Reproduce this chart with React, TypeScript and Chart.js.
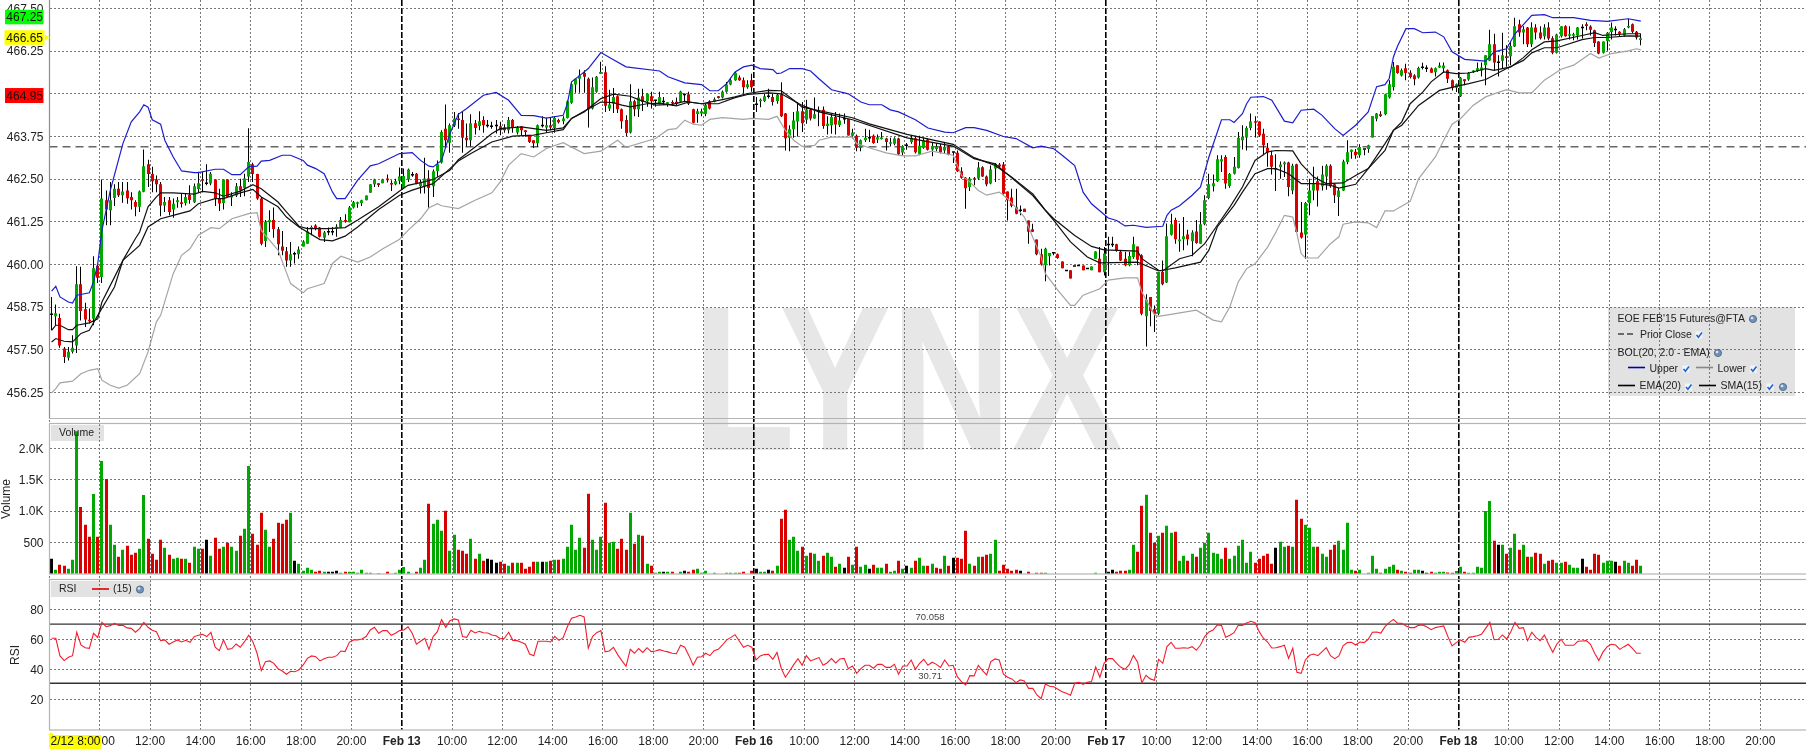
import React, { useEffect, useRef } from "react";
import { Chart, registerables } from "chart.js";

Chart.register(...registerables);

type Ohlc = [number, number, number, number];

const feb12Ohlc: Ohlc[] = [
[458.52,459.05,458.07,458.52],[458.48,458.83,458.22,458.57],[458.43,458.56,457.56,457.63],[457.54,457.58,457.11,457.29],
[457.27,457.58,457.19,457.44],[457.44,457.93,457.39,457.56],[457.63,459.95,457.41,459.42],[459.42,459.93,458.36,458.64],
[458.69,458.88,458.17,458.39],[458.38,458.71,458.27,458.34],[458.41,460.24,458.22,459.89],[459.96,460.03,459.46,459.61],
[459.63,462.49,459.46,461.93],[461.88,462.17,461.15,461.61],[461.59,462.42,461.15,461.88],[461.95,462.35,461.71,462.22],
[462.22,462.42,461.98,462.03],[462.03,462.42,461.81,462.14],[462.17,462.42,461.78,461.94],[461.98,462.12,461.61,461.88],
[461.83,461.88,461.41,461.69],[461.69,462.17,461.54,462.14],[462.13,463.37,462.12,462.88],[462.94,463.07,462.27,462.65],
[462.65,462.86,462.12,462.44],[462.49,462.61,462.12,462.35],[462.35,462.42,461.41,461.73],[461.73,461.98,461.54,461.83],
[461.88,461.98,461.44,461.54],[461.61,461.93,461.37,461.78],[461.82,461.98,461.66,461.88],[461.82,462.08,461.67,461.77],
[461.80,462.08,461.73,461.98],[462.04,462.32,461.78,461.89],[461.82,462.37,461.80,462.29],[462.21,462.72,462.12,462.38],
[462.50,462.71,462.12,462.45],[462.36,462.94,462.32,462.36],[462.37,462.71,462.32,462.66],[462.49,462.49,461.71,461.93],
[461.93,462.22,461.57,461.79],[461.80,462.49,461.61,462.49],[462.49,462.49,461.98,461.98],[461.96,462.12,461.71,462.02],
[462.02,462.39,461.98,462.29],[462.29,462.51,461.98,462.17],[462.24,462.66,462.00,462.52],[462.58,463.99,462.42,463.00],
[462.94,462.98,462.42,462.65],[462.65,462.66,461.90,461.93],[461.93,461.98,460.56,460.61],[460.69,461.30,460.51,461.25],
[461.24,461.59,460.95,461.30],[461.30,461.67,460.78,461.04],[461.03,461.10,460.27,460.59],[460.53,460.98,460.27,460.40],
[460.39,460.51,459.93,460.12],[460.12,460.66,459.93,460.30],[460.29,460.37,460.03,460.29],[460.30,460.53,460.17,460.44],
[460.53,460.71,460.53,460.67],[460.61,461.10,460.61,460.97],[461.04,461.14,460.86,461.10],[461.14,461.18,461.00,461.04],
[461.08,461.10,460.79,460.81],[460.78,460.98,460.66,460.94],[460.94,461.08,460.86,460.94],[460.94,461.10,460.86,460.94],
[461.06,461.18,460.81,461.08],[461.08,461.39,461.08,461.30],[461.30,461.47,461.22,461.25],[461.24,461.71,461.24,461.67],
[461.67,461.86,461.64,461.82],[461.78,461.84,461.66,461.82],[461.80,461.90,461.71,461.88],[461.88,462.02,461.88,462.02],
[462.10,462.35,462.10,462.35],[462.35,462.51,462.27,462.49],[462.38,462.38,462.27,462.33],[462.38,462.51,462.38,462.49],
[462.52,462.64,462.40,462.47],[462.38,462.47,462.15,462.34],[462.35,462.51,462.32,462.44],[462.45,462.84,462.35,462.58],
];
const feb13Ohlc: Ohlc[] = [
[462.24,462.81,462.22,462.59],[462.49,462.81,462.42,462.78],[462.61,462.71,462.57,462.61],[462.66,462.68,462.35,462.37],
[462.30,462.49,462.08,462.42],[462.30,463.13,462.08,462.52],[462.52,462.76,461.66,462.24],[462.29,462.78,461.98,462.73],
[462.74,463.05,462.57,462.94],[462.99,463.93,462.96,463.88],[463.98,464.69,463.45,463.64],[463.57,464.13,463.27,464.08],
[464.07,464.47,464.03,464.28],[464.28,464.44,463.98,464.23],[464.23,464.47,463.27,463.71],[463.71,464.13,463.46,463.64],
[463.64,464.40,463.46,464.14],[464.14,464.23,463.81,464.00],[464.06,464.49,463.93,464.20],[464.23,464.34,463.86,464.08],
[464.05,464.23,464.01,464.05],[464.03,464.18,463.98,464.03],[464.05,464.23,463.84,464.05],[464.05,464.18,463.79,463.93],
[464.01,464.11,463.86,463.93],[463.93,464.32,463.84,464.23],[464.23,464.26,463.86,464.01],[463.87,464.06,463.81,464.01],
[464.04,464.05,463.79,463.93],[463.93,463.93,463.74,463.88],[463.77,463.79,463.56,463.59],[463.64,463.64,463.41,463.55],
[463.55,464.10,463.45,464.08],[464.05,464.34,464.01,464.05],[464.01,464.30,463.86,464.08],[464.08,464.30,463.93,464.01],
[464.00,464.34,463.86,464.29],[464.23,464.27,464.13,464.17],[464.20,464.34,464.11,464.28],[464.29,464.81,464.28,464.78],
[464.74,465.32,464.71,465.28],[465.27,465.45,465.03,465.44],[465.44,465.71,465.03,465.54],[465.61,465.69,465.03,465.50],
[465.44,465.48,464.01,464.55],[464.57,465.48,464.54,465.19],[465.06,465.52,465.03,465.50],[465.59,465.94,465.59,465.64],
[465.63,465.81,464.47,464.65],[464.57,465.12,464.50,464.69],[464.71,465.17,464.44,464.91],[464.93,464.96,464.44,464.55],
[464.55,464.57,463.98,464.20],[464.23,464.37,463.76,463.85],[463.87,465.28,463.84,464.78],[464.78,464.83,464.34,464.55],
[464.55,465.15,464.32,464.89],[464.93,465.15,464.50,464.76],[464.78,465.01,464.62,465.00],[464.93,465.06,464.57,464.78],
[464.79,464.81,464.62,464.79],[464.72,465.06,464.69,464.91],[464.75,464.91,464.67,464.75],[464.69,464.76,464.62,464.75],
[464.75,464.81,464.64,464.72],[464.77,464.89,464.65,464.71],[464.77,465.09,464.75,465.07],[464.96,465.01,464.75,464.96],
[464.99,465.06,464.67,464.71],[464.55,464.56,464.13,464.15],[464.41,464.56,464.15,464.49],[464.42,464.57,464.34,464.49],
[464.41,464.71,464.34,464.67],[464.78,464.81,464.54,464.57],[464.78,464.89,464.75,464.84],[464.93,464.94,464.86,464.88],
[464.89,465.10,464.86,465.06],[465.06,465.35,465.03,465.27],[465.27,465.48,465.25,465.40],[465.40,465.64,465.38,465.62],
[465.48,465.54,465.38,465.40],[465.40,465.48,465.01,465.19],[465.19,465.40,465.15,465.28],[465.40,465.59,465.06,465.19],
];
const feb16Ohlc: Ohlc[] = [
[464.67,464.91,464.47,464.67],[464.78,464.86,464.61,464.83],[464.79,465.00,464.76,464.93],[464.91,465.15,464.86,464.91],
[464.91,465.00,464.66,464.76],[464.79,465.00,464.71,464.97],[464.99,465.34,464.32,464.34],[464.42,464.44,463.34,463.70],
[463.71,464.08,463.32,463.96],[463.96,464.47,463.71,464.22],[464.19,464.76,463.75,464.49],[464.49,464.76,463.88,464.14],
[464.24,464.83,464.12,464.54],[464.53,464.56,464.22,464.28],[464.28,464.89,464.27,464.40],[464.47,464.63,464.05,464.47],
[464.53,464.63,463.98,464.06],[464.06,464.34,463.81,464.12],[464.08,464.42,463.83,464.32],[464.32,464.47,463.81,464.10],
[464.09,464.42,464.03,464.22],[464.25,464.42,464.12,464.25],[464.26,464.26,463.78,463.78],[463.77,463.98,463.69,463.87],
[463.77,463.81,463.32,463.42],[463.42,463.66,463.32,463.64],[463.64,463.98,463.59,463.71],[463.69,463.95,463.59,463.69],
[463.77,463.81,463.54,463.56],[463.66,463.81,463.56,463.73],[463.68,463.88,463.66,463.72],[463.69,463.71,463.34,463.59],
[463.54,463.71,463.46,463.58],[463.54,463.73,463.49,463.69],[463.69,463.71,463.20,463.23],[463.28,463.49,463.20,463.47],
[463.47,463.56,463.36,463.47],[463.59,463.78,463.54,463.71],[463.70,463.77,463.25,463.29],[463.23,463.77,463.20,463.48],
[463.42,463.71,463.39,463.64],[463.66,463.69,463.34,463.36],[463.37,463.59,463.17,463.47],[463.38,463.56,463.32,463.46],
[463.46,463.54,463.25,463.28],[463.34,463.59,463.25,463.45],[463.46,463.49,463.20,463.22],[463.27,463.29,462.97,463.27],
[463.27,463.34,462.71,462.73],[462.73,462.85,462.51,462.54],[462.54,462.56,461.63,462.23],[462.27,462.56,462.15,462.52],
[462.52,462.56,462.32,462.48],[462.52,463.00,462.48,462.84],[462.85,462.88,462.56,462.58],[462.58,462.61,462.29,462.35],
[462.37,462.90,462.35,462.78],[462.81,462.97,462.42,462.95],[462.93,462.97,462.85,462.87],[462.93,463.00,462.05,462.07],
[462.14,462.14,461.29,461.88],[461.96,462.22,461.68,461.72],[461.68,462.22,461.47,461.49],[461.57,461.73,461.44,461.57],
[461.63,461.63,461.54,461.54],[461.29,461.29,460.61,460.96],[461.03,461.19,460.95,460.96],[460.73,460.73,460.27,460.30],
[460.30,460.46,459.97,460.00],[459.98,460.49,459.51,460.46],[460.24,460.34,459.97,460.34],[460.32,460.36,460.27,460.32],
[460.30,460.32,460.17,460.19],[460.09,460.09,459.89,459.89],[459.80,459.80,459.80,459.80],[459.83,459.83,459.59,459.59],
[459.93,459.93,459.93,459.93],[459.95,459.95,459.95,459.95],[459.97,459.97,459.83,459.83],[459.86,459.86,459.86,459.86],
[459.83,459.94,459.83,459.94],[460.17,460.39,460.17,460.38],[460.17,460.51,459.77,459.77],[459.77,460.51,459.68,460.32],
];
const feb17Ohlc: Ohlc[] = [
[460.56,460.81,459.66,460.56],[460.56,460.81,460.51,460.56],[460.59,460.61,460.37,460.40],[460.37,460.40,460.10,460.12],
[460.17,460.37,459.95,459.98],[459.98,460.37,459.95,460.25],[460.22,460.81,460.17,460.59],[460.53,460.53,459.98,460.14],
[460.27,460.30,458.51,458.56],[458.48,459.13,457.60,458.97],[459.05,459.05,458.19,458.64],[458.69,458.80,458.02,458.56],
[458.56,459.78,458.51,459.78],[459.78,460.12,459.39,459.42],[459.47,461.20,459.46,460.83],[460.87,461.49,460.85,461.18],
[461.30,461.37,460.61,460.74],[460.68,461.20,460.37,460.73],[460.74,461.39,460.42,460.83],[460.88,461.02,460.56,460.74],
[460.68,461.00,460.24,460.94],[460.97,461.30,460.61,460.63],[460.61,461.54,460.61,461.18],[461.18,462.03,461.15,461.88],
[461.95,462.66,461.91,462.35],[462.29,462.64,462.14,462.38],[462.44,463.20,462.42,463.08],[463.02,463.20,462.71,463.08],
[463.15,463.20,462.22,462.37],[462.30,462.68,462.25,462.65],[462.66,463.15,462.64,462.86],[462.83,463.88,462.81,463.71],
[463.64,464.08,463.37,463.74],[463.72,464.05,463.34,464.00],[464.00,464.42,463.93,464.19],[464.19,464.34,463.72,464.15],
[464.19,464.20,463.74,463.78],[463.83,463.98,463.20,463.49],[463.42,463.56,462.86,463.28],[463.20,463.33,462.64,462.86],
[462.78,463.23,462.15,462.78],[462.85,463.02,462.51,462.93],[462.94,463.02,462.56,462.99],[462.99,463.01,462.00,462.27],
[462.17,462.95,462.06,462.89],[462.94,462.95,460.92,460.95],[460.94,461.83,460.76,460.79],[460.88,461.83,460.17,461.80],
[461.80,462.51,461.44,462.17],[462.17,462.86,461.88,462.35],[462.44,462.58,461.70,462.17],[462.29,462.89,462.17,462.64],
[462.58,462.94,462.19,462.89],[462.89,462.94,462.25,462.29],[462.35,462.37,461.80,462.03],[461.98,462.25,461.42,462.17],
[462.17,463.07,462.15,463.02],[463.00,463.64,462.94,463.29],[463.30,463.37,463.10,463.36],[463.30,463.38,463.10,463.20],
[463.20,463.52,463.13,463.44],[463.36,463.37,463.20,463.36],[463.38,463.51,463.27,463.49],[463.72,464.35,463.72,464.35],
[464.27,464.44,464.20,464.42],[464.40,464.49,464.32,464.35],[464.40,465.00,464.37,464.99],[464.89,465.40,464.86,465.28],
[465.20,465.93,465.10,465.79],[465.84,465.84,465.59,465.61],[465.54,465.74,465.51,465.69],[465.75,465.88,465.40,465.61],
[465.62,465.69,465.45,465.49],[465.54,465.57,465.25,465.43],[465.48,465.79,465.45,465.76],[465.76,465.91,465.71,465.76],
[465.73,465.84,465.64,465.73],[465.74,465.77,465.62,465.62],[465.63,465.77,465.51,465.75],[465.77,465.92,465.76,465.83],
[465.75,465.92,465.61,465.83],[465.69,465.71,465.32,465.44],[465.40,465.42,465.10,465.18],[465.18,465.30,465.05,465.28],
];
const feb18Ohlc: Ohlc[] = [
[464.93,465.49,464.91,465.47],[465.43,465.43,465.25,465.37],[465.42,465.64,465.38,465.62],[465.63,465.69,465.61,465.68],
[465.67,465.92,465.64,465.75],[465.68,465.92,465.51,465.77],[465.84,466.13,465.25,466.13],[465.98,466.88,465.96,466.45],
[466.45,466.76,465.69,465.92],[465.90,466.13,465.51,465.90],[465.97,466.79,465.74,466.13],[466.10,466.42,465.79,466.05],
[466.10,466.52,465.84,466.40],[466.39,467.23,466.37,466.98],[467.04,467.17,466.67,466.80],[466.80,466.98,466.45,466.89],
[466.94,466.96,466.37,466.45],[466.45,467.10,466.37,466.94],[466.94,467.04,466.59,466.80],[466.80,466.98,466.59,466.63],
[466.69,467.04,466.59,466.94],[466.94,467.10,466.57,466.62],[466.63,466.69,466.16,466.20],[466.20,466.76,466.18,466.74],
[466.69,466.98,466.65,466.98],[466.98,467.01,466.67,466.69],[466.70,466.98,466.59,466.73],[466.70,466.79,466.57,466.73],
[466.71,466.96,466.59,466.94],[466.92,467.04,466.62,466.92],[467.04,467.10,466.86,466.99],[466.97,467.01,466.71,466.88],
[466.86,466.88,466.37,466.49],[466.53,466.54,466.16,466.18],[466.20,466.53,466.18,466.53],[466.55,466.81,466.26,466.79],
[466.81,467.09,466.59,466.94],[466.86,466.98,466.71,466.86],[466.82,466.83,466.67,466.76],[466.70,466.93,466.67,466.89],
[466.94,467.20,466.92,466.99],[467.04,467.06,466.78,466.82],[466.82,466.84,466.59,466.65],[466.58,466.76,466.42,466.63],
];

const feb12Volume = [239,64,143,127,80,223,2274,1066,779,588,1272,588,1797,1511,779,461,270,382,445,302,334,398,1256,557,318,223,541,413,302,239,254,239,239,175,429,398,398,541,286,573,398,429,493,429,366,605,716,1719,637,461,971,700,429,557,812,796,859,971,207,159,48,95,64,32,48,32,32,32,48,16,32,32,32,16,64,16,16,0,8,0,32,0,16,64];
const feb13Volume = [106,32,0,32,96,223,1115,797,860,685,1004,366,621,382,366,319,558,239,319,207,239,223,175,191,159,127,175,175,175,80,112,191,191,191,191,207,223,223,239,430,781,382,573,414,1274,542,382,589,1131,494,510,398,558,382,972,478,621,605,159,127,16,32,32,32,32,0,32,48,32,64,80,16,48,0,16,0,0,16,16,16,16,32,0,48];
const feb16Volume = [80,32,32,64,48,127,876,1020,542,589,366,430,287,335,319,207,287,335,271,112,159,96,271,143,430,112,143,80,143,96,96,159,32,48,207,80,127,96,207,255,127,127,159,96,80,287,127,255,255,239,685,159,127,271,271,303,319,542,48,143,80,48,64,48,0,32,0,16,16,16,0,0,0,0,0,0,0,0,0,0,0,16,0,0];
const feb17Volume = [32,64,32,48,48,64,462,350,1083,1258,653,494,605,653,765,653,669,207,287,207,319,271,414,494,653,335,319,239,414,239,287,446,542,175,350,175,239,287,319,159,414,510,430,446,430,1179,876,781,733,430,430,319,271,382,462,526,382,812,64,48,64,0,16,287,80,16,80,112,143,64,48,32,16,64,64,48,16,32,16,32,32,21,16,42];
const feb18Volume = [111,32,16,16,111,95,1002,1161,525,461,461,318,413,636,382,461,270,270,334,318,159,207,223,175,175,191,143,95,95,239,111,64,318,302,175,207,207,191,127,207,175,127,223,127];

const volumeDirections = [
  "kgrrgggrrrgrgrggrgrrrggrrrrgrggrgrggrkgrrgrggrggrrrggrrrrgkggggrrgkkkgrgggggggrgrggg",
  "gggrggrgggrggrrrgrgrkkkrrgrgrrrrgkgrgrgggggrrgggrggrrrgrgrgrggkgrggkrrggggggggggrrgr",
  "kggkrgrrgggrgrggrggrgkrgrggkrggrggrgkgrggrgrrgrkrrrgrgrrggrrrrrkrrrrrggggggggggggggg",
  "kkrrrggrrgrrgrggrggrgrggggggrggggggrrrrrkggrgrrgggrggrrggggrgggggrgggrgrrggkkrgggrrg",
  "grggggggrkgrggrgrgrrgrrggrgggkrrrrgggkrggrrg",
].join("");

const feb12Rsi = [60.7,60.7,48.9,45.8,48.0,49.1,64.7,56.2,54.4,54.0,64.0,61.3,71.3,68.4,69.1,70.7,69.3,69.3,67.6,67.3,64.7,67.1,71.3,68.0,66.0,65.1,59.1,59.6,56.7,58.2,59.6,58.2,59.3,58.0,61.8,62.7,63.3,61.8,64.7,54.7,52.4,59.6,53.3,53.8,56.9,54.7,58.4,62.7,58.4,50.7,39.1,45.1,45.6,44.0,40.4,38.9,36.7,38.7,38.4,39.6,42.9,47.3,48.9,48.4,45.6,47.1,48.0,48.0,49.1,52.2,51.8,58.0,59.6,59.6,60.2,61.8,66.2,68.0,64.0,65.8,65.8,62.7,64.0,65.8];
const feb13Rsi = [66.2,68.4,64.0,56.7,58.7,60.7,53.3,61.8,65.1,73.1,68.0,72.4,73.6,72.9,61.8,61.3,66.0,64.2,65.3,64.4,64.2,62.9,62.4,60.4,60.7,64.7,59.3,59.1,58.0,56.7,50.2,49.1,58.7,58.7,58.7,58.2,62.0,59.3,61.1,68.4,74.0,74.9,76.0,74.9,54.0,61.8,64.4,65.8,51.6,52.2,54.7,49.8,45.8,42.0,53.3,50.7,53.8,51.3,54.4,51.8,52.2,53.1,52.2,51.6,50.7,50.4,56.0,54.7,49.1,42.7,48.0,48.4,50.7,49.1,52.4,53.3,56.2,59.6,61.3,63.1,58.9,54.7,56.0,54.7];
const feb16Rsi = [46.2,48.9,49.8,50.0,46.7,51.3,40.7,34.7,38.9,43.1,47.1,42.7,49.1,45.6,46.7,47.8,42.7,44.4,47.1,44.2,46.9,47.3,40.4,42.2,37.3,40.4,42.7,42.7,40.7,43.3,43.3,41.3,41.3,43.3,36.7,42.2,42.2,46.2,40.0,44.0,46.7,42.7,44.7,43.3,41.3,46.2,42.2,42.7,35.1,31.8,29.6,35.8,35.6,42.7,39.1,36.2,45.1,46.9,46.2,36.7,34.7,33.6,31.1,32.9,32.2,27.3,27.3,22.9,20.4,30.2,28.7,28.4,26.7,25.1,24.0,22.7,30.7,31.3,30.0,31.3,31.8,41.6,34.7,44.0];
const feb17Rsi = [47.1,47.1,44.0,41.3,40.0,43.1,49.3,44.7,30.9,36.0,33.6,32.7,46.7,44.0,55.1,58.0,54.0,54.0,54.4,54.0,55.1,52.7,56.2,61.8,64.9,66.2,69.6,69.3,61.3,62.7,64.4,69.3,69.3,70.9,72.0,71.1,65.1,60.7,58.2,54.2,54.4,55.1,56.0,47.3,54.0,38.0,37.3,46.2,49.3,50.2,49.1,51.8,54.4,49.1,47.1,48.9,55.6,57.8,58.0,56.2,58.2,57.8,60.0,64.7,64.9,64.2,68.4,71.1,73.3,70.7,70.7,68.9,67.8,67.8,69.3,69.6,68.2,66.4,67.8,68.4,68.9,61.8,55.6,57.8];
const feb18Rsi = [59.6,58.0,61.3,61.8,62.4,63.3,67.3,71.3,59.8,60.0,62.9,60.2,65.1,71.3,67.3,67.8,59.1,64.7,61.3,59.1,62.9,56.9,51.3,56.9,60.0,56.0,56.0,56.0,58.7,58.9,59.1,56.7,50.7,45.8,51.6,55.1,56.7,56.2,53.3,55.1,56.7,54.0,50.7,50.7];

type BarValue = [number, number];
const upperBand: BarValue[] = [[0,459.22],[1,459.36],[2,459.05],[4,458.90],[5,458.87],[6,459.10],[9,459.17],[10,459.49],[11,460.02],[12,461.0],[14,462.17],[17,463.54],[19,464.18],[21,464.47],[22,464.68],[23,464.61],[24,464.24],[26,464.11],[27,463.64],[29,463.15],[31,462.74],[34,462.69],[35,462.69],[39,462.79],[41,462.79],[43,462.63],[45,462.63],[47,462.86],[49,462.88],[50,463.03],[52,463.05],[55,463.20],[57,463.20],[60,463.05],[61,462.91],[63,462.81],[65,462.66],[67,462.12],[68,461.93],[70,461.93],[73,462.47],[76,462.89],[78,462.95],[83,463.25],[86,463.28],[88,463.05],[90,462.88],[91,462.86],[93,463.05],[95,463.84],[97,464.40],[99,464.57],[103,464.96],[106,465.04],[109,464.81],[112,464.37],[115,464.36],[118,464.29],[122,464.37],[123,464.71],[124,465.35],[126,465.54],[128,465.74],[131,466.21],[134,466.00],[137,465.79],[145,465.67],[147,465.50],[151,465.32],[155,465.27],[157,465.09],[159,465.09],[161,465.30],[163,465.64],[165,465.79],[167,465.84],[169,465.74],[172,465.71],[173,465.59],[174,465.61],[176,465.74],[179,465.74],[181,465.67],[183,465.44],[186,465.12],[190,465.00],[193,464.76],[195,464.68],[198,464.68],[200,464.53],[202,464.47],[206,464.24],[209,464.00],[213,463.88],[215,463.86],[218,464.01],[220,464.01],[223,463.93],[227,463.75],[230,463.69],[234,463.42],[236,463.47],[239,463.39],[241,463.20],[244,462.90],[246,462.12],[248,461.78],[252,461.36],[254,461.29],[256,461.13],[258,461.15],[261,461.09],[265,461.12],[266,461.44],[267,461.59],[269,461.72],[272,462.03],[274,462.27],[276,463.15],[279,464.24],[281,464.24],[282,464.16],[284,464.42],[285,464.71],[286,464.90],[289,464.92],[291,464.81],[294,464.20],[296,464.15],[298,464.52],[301,464.55],[303,464.37],[306,463.98],[308,463.78],[311,464.08],[314,464.47],[316,465.21],[318,465.27],[319,465.45],[320,466.08],[321,466.40],[323,466.91],[325,466.91],[327,466.79],[330,466.81],[332,466.67],[334,466.23],[337,466.01],[342,465.96],[344,466.23],[347,466.32],[349,466.76],[353,467.30],[356,467.32],[358,467.23],[363,467.23],[367,467.15],[371,467.12],[376,467.20],[379,467.13]];
const lowerBand: BarValue[] = [[0,456.24],[1,456.36],[2,456.53],[5,456.58],[7,456.80],[9,456.90],[11,456.95],[12,456.61],[14,456.46],[16,456.38],[18,456.46],[21,456.80],[23,457.44],[25,458.32],[26,458.51],[29,459.73],[31,460.27],[33,460.46],[35,460.86],[38,461.08],[40,461.05],[43,461.34],[47,461.49],[49,461.52],[50,461.0],[54,460.42],[57,459.44],[60,459.17],[61,459.29],[65,459.44],[67,460.03],[69,460.24],[73,460.07],[76,460.22],[79,460.46],[83,460.74],[85,461.0],[88,461.34],[90,461.66],[92,461.78],[93,461.72],[97,461.64],[101,461.88],[105,462.10],[107,462.42],[109,462.91],[112,463.25],[115,463.15],[118,463.40],[122,463.57],[127,463.25],[131,463.32],[135,463.64],[137,463.43],[144,463.69],[147,463.95],[149,463.98],[151,464.23],[153,464.11],[155,464.08],[157,464.25],[160,464.30],[165,464.25],[167,464.28],[171,464.25],[173,464.34],[175,463.93],[177,463.64],[179,463.46],[182,463.49],[183,463.64],[186,463.73],[191,463.73],[192,463.54],[195,463.42],[199,463.27],[203,463.18],[206,463.18],[210,463.32],[215,463.20],[217,462.61],[219,462.42],[221,462.17],[223,462.03],[226,462.12],[228,461.93],[232,461.39],[234,460.80],[236,460.22],[237,459.73],[240,459.24],[243,458.80],[244,458.80],[246,459.10],[250,459.29],[252,459.54],[256,459.61],[259,459.61],[260,459.19],[263,458.53],[264,458.48],[268,458.56],[273,458.66],[277,458.37],[279,458.32],[281,458.76],[283,459.49],[285,459.88],[287,460.02],[290,460.51],[292,460.95],[294,461.44],[296,461.39],[297,460.90],[298,460.32],[299,460.19],[302,460.19],[305,460.61],[307,460.81],[308,461.18],[311,461.25],[314,461.22],[316,461.08],[318,461.57],[320,461.57],[324,461.85],[326,462.51],[330,463.15],[332,463.64],[334,464.11],[336,464.27],[339,464.66],[342,464.91],[344,465.00],[347,465.12],[350,465.03],[353,465.03],[356,465.40],[360,465.72],[363,465.84],[367,466.18],[369,466.05],[372,466.18],[376,466.26],[378,466.32],[379,466.29]];
const sma15: BarValue[] = [[0,458.07],[1,458.22],[2,458.22],[4,458.09],[5,458.09],[6,458.22],[9,458.29],[11,458.41],[12,458.90],[15,459.63],[17,460.12],[20,460.76],[21,460.95],[23,461.69],[25,461.98],[26,462.10],[29,462.10],[34,462.06],[36,462.14],[39,462.10],[41,462.00],[45,462.15],[48,462.34],[50,462.22],[54,461.83],[56,461.54],[59,461.12],[61,461.05],[66,461.05],[70,461.08],[73,461.30],[78,461.69],[83,462.15],[85,462.32],[88,462.40],[91,462.49],[95,462.76],[97,463.07],[99,463.25],[102,463.54],[105,463.84],[107,463.98],[112,464.03],[115,463.98],[118,463.93],[122,464.00],[124,464.28],[127,464.47],[128,464.57],[131,464.86],[134,464.99],[138,464.93],[140,464.83],[144,464.67],[148,464.69],[151,464.78],[155,464.71],[160,464.83],[163,464.91],[166,465.01],[171,465.10],[174,465.09],[177,464.81],[179,464.61],[183,464.51],[191,464.30],[195,464.12],[204,463.81],[215,463.52],[220,463.13],[225,462.90],[229,462.56],[234,462.07],[237,461.59],[239,461.34],[244,460.85],[248,460.53],[251,460.43],[259,460.39],[260,460.17],[264,459.83],[265,459.81],[269,460.17],[272,460.27],[275,460.61],[278,461.15],[281,461.68],[284,462.27],[287,463.05],[290,463.30],[292,463.34],[296,463.33],[298,462.95],[301,462.56],[304,462.37],[308,462.39],[311,462.61],[314,462.81],[318,463.34],[320,463.93],[322,464.18],[324,464.71],[327,465.05],[329,465.35],[332,465.64],[335,465.59],[338,465.61],[342,465.74],[344,465.69],[348,465.79],[351,466.06],[353,466.29],[356,466.52],[359,466.55],[365,466.71],[368,466.79],[370,466.71],[376,466.76],[379,466.76]];
const ema20: BarValue[] = [[0,457.73],[1,457.83],[3,457.75],[5,457.73],[7,457.98],[9,458.07],[11,458.51],[15,459.34],[17,460.12],[21,460.56],[23,461.10],[26,461.34],[29,461.44],[33,461.57],[35,461.78],[39,461.93],[41,461.93],[45,462.10],[48,462.20],[50,461.98],[54,461.69],[56,461.39],[59,461.10],[64,460.73],[67,460.69],[70,460.83],[73,461.10],[78,461.61],[83,462.03],[86,462.18],[91,462.37],[95,462.81],[97,463.03],[100,463.25],[105,463.59],[110,463.76],[115,463.79],[118,463.86],[122,463.95],[124,464.28],[127,464.49],[131,464.76],[134,464.74],[136,464.67],[138,464.62],[142,464.71],[145,464.73],[149,464.65],[152,464.76],[155,464.71],[159,464.71],[163,464.89],[166,464.98],[171,465.03],[174,465.00],[179,464.66],[183,464.47],[191,464.24],[204,463.71],[215,463.47],[220,463.10],[225,462.95],[234,462.02],[239,461.29],[243,460.66],[247,460.22],[250,460.05],[259,460.07],[264,459.81],[268,459.90],[274,460.07],[276,460.42],[278,461.10],[282,461.73],[284,462.12],[287,462.66],[290,462.81],[292,462.81],[295,462.66],[298,462.37],[302,462.37],[305,462.32],[307,462.24],[311,462.35],[314,462.81],[318,463.54],[320,463.93],[322,464.08],[324,464.37],[326,464.66],[331,465.10],[335,465.22],[338,465.30],[342,465.42],[347,465.74],[351,465.98],[353,466.20],[356,466.35],[359,466.35],[365,466.59],[368,466.65],[371,466.65],[376,466.70],[379,466.69]];

const priorClose = 463.45;
const rsiUpperLevel = 70.058;
const rsiLowerLevel = 30.71;
const lastHigh = 467.25;
const lastPrice = 466.65;
const lastLow = 464.95;

const priceTicks = [467.5, 466.25, 465, 463.75, 462.5, 461.25, 460, 458.75, 457.5, 456.25];
const volumeTicks = [500, 1000, 1500, 2000];
const volumeTickLabels = ["500", "1.0K", "1.5K", "2.0K"];
const rsiTicks = [20, 40, 60, 80];
const xTickBars = [-0.5,11.5,23.5,35.5,47.5,59.5,71.5,83.5,95.5,107.5,119.5,131.5,143.5,155.5,167.5,179.5,191.5,203.5,215.5,227.5,239.5,251.5,263.5,275.5,287.5,299.5,311.5,323.5,335.5,347.5,359.5,371.5,383.5,395.5,407.5];
const xTickLabels = ["","10:00","12:00","14:00","16:00","18:00","20:00","Feb 13","10:00","12:00","14:00","16:00","18:00","20:00","Feb 16","10:00","12:00","14:00","16:00","18:00","20:00","Feb 17","10:00","12:00","14:00","16:00","18:00","20:00","Feb 18","10:00","12:00","14:00","16:00","18:00","20:00"];

const FONT = '"Liberation Sans", Arial, sans-serif';
const GREEN = "#00a800";
const RED = "#d90000";
const GRID = "#777777";

const ohlc = [...feb12Ohlc, ...feb13Ohlc, ...feb16Ohlc, ...feb17Ohlc, ...feb18Ohlc];
const volume = [...feb12Volume, ...feb13Volume, ...feb16Volume, ...feb17Volume, ...feb18Volume];
const rsi = [...feb12Rsi, ...feb13Rsi, ...feb16Rsi, ...feb17Rsi, ...feb18Rsi];

const X_MIN = -0.5;
const X_MAX = 418.4;

const candleColor = (c: Ohlc) => (c[3] > c[0] ? GREEN : c[3] < c[0] ? RED : "#000000");
const volumeColor = (d: string) => (d === "g" ? GREEN : d === "r" ? RED : "#000000");
const toPoints = (rows: BarValue[]) => rows.map(([x, y]) => ({ x, y }));

function globe(ctx: CanvasRenderingContext2D, x: number, y: number) {
  ctx.beginPath();
  ctx.arc(x, y, 3.6, 0, Math.PI * 2);
  ctx.fillStyle = "#6f93bd";
  ctx.fill();
  ctx.strokeStyle = "#4a5f78";
  ctx.lineWidth = 0.8;
  ctx.stroke();
  ctx.beginPath();
  ctx.arc(x - 1, y - 1, 1.3, 0, Math.PI * 2);
  ctx.fillStyle = "#dbe6f2";
  ctx.fill();
}

function check(ctx: CanvasRenderingContext2D, x: number, y: number) {
  ctx.fillStyle = "#f4f4f4";
  ctx.fillRect(x - 3.5, y - 3.5, 7, 7);
  ctx.beginPath();
  ctx.moveTo(x - 2.5, y);
  ctx.lineTo(x - 0.6, y + 2.2);
  ctx.lineTo(x + 3, y - 2.6);
  ctx.strokeStyle = "#1a66d6";
  ctx.lineWidth = 1.6;
  ctx.stroke();
}

function seg(ctx: CanvasRenderingContext2D, x1: number, x2: number, y: number, color: string, dash: number[] = []) {
  ctx.save();
  ctx.setLineDash(dash);
  ctx.strokeStyle = color;
  ctx.lineWidth = 1.6;
  ctx.beginPath();
  ctx.moveTo(x1, y);
  ctx.lineTo(x2, y);
  ctx.stroke();
  ctx.restore();
}

function text(ctx: CanvasRenderingContext2D, s: string, x: number, y: number, font = `10.5px ${FONT}`, color = "#222222", align: CanvasTextAlign = "left") {
  ctx.font = font;
  ctx.fillStyle = color;
  ctx.textAlign = align;
  ctx.textBaseline = "middle";
  ctx.fillText(s, x, y);
}

const snapBars = {
  id: "snapBars",
  afterDatasetsUpdate(chart: Chart) {
    chart.getSortedVisibleDatasetMetas().forEach((meta: any) => {
      if (meta.type !== "bar") return;
      meta.data.forEach((bar: any) => {
        bar.x = Math.round(bar.x - 0.5) + 0.5;
      });
    });
  },
};

const chrome = {
  id: "chrome",
  beforeDraw(chart: Chart) {
    const ctx = chart.ctx;
    ctx.save();
    ctx.fillStyle = "#ffffff";
    ctx.fillRect(0, 0, chart.width, chart.height);
    ctx.save();
    ctx.translate(693, 450);
    ctx.scale(0.81, 1);
    ctx.font = `bold 206px ${FONT}`;
    ctx.fillStyle = "#e7e7e7";
    ctx.textAlign = "left";
    ctx.textBaseline = "alphabetic";
    ctx.fillText("LYNX", 0, 0);
    ctx.restore();
    ctx.fillStyle = "#e2e2e2";
    ctx.fillRect(1608, 307, 187, 89);
    ctx.fillRect(51, 425, 53, 16);
    ctx.fillRect(51, 581, 100, 16);
    ctx.restore();
  },
  afterDraw(chart: Chart) {
    const ctx = chart.ctx;
    const { yPrice, yRsi, x } = chart.scales;
    ctx.save();
    // panel frames
    ctx.strokeStyle = "#b4b4b4";
    ctx.lineWidth = 1.2;
    ctx.strokeRect(49.5, 423.5, 1760, 150.5);
    ctx.strokeRect(49.5, 579.5, 1760, 150.5);
    ctx.beginPath();
    ctx.moveTo(49.5, 418.5);
    ctx.lineTo(1806, 418.5);
    ctx.stroke();
    ctx.strokeStyle = "#8c8c8c";
    ctx.beginPath();
    ctx.moveTo(49.5, 0);
    ctx.lineTo(49.5, 418.5);
    ctx.stroke();

    // axis titles
    ctx.save();
    ctx.translate(7, 499);
    ctx.rotate(-Math.PI / 2);
    text(ctx, "Volume", 0, 0, `12px ${FONT}`, "#222222", "center");
    ctx.restore();
    ctx.save();
    ctx.translate(16, 655);
    ctx.rotate(-Math.PI / 2);
    text(ctx, "RSI", 0, 0, `12px ${FONT}`, "#222222", "center");
    ctx.restore();

    // price flags
    const flag = (value: number, fill: string, left: number, right: number, h: number) => {
      const y = yPrice.getPixelForValue(value);
      ctx.fillStyle = fill;
      ctx.fillRect(left, y - h / 2, right - left, h);
      text(ctx, value.toFixed(2), 43, y + 1, `12px ${FONT}`, "#111111", "right");
      return y;
    };
    flag(lastHigh, "#00ff00", 5, 43.5, 14.5);
    const yLast = yPrice.getPixelForValue(lastPrice);
    ctx.fillStyle = "#ffff00";
    ctx.beginPath();
    ctx.moveTo(45, yLast - 3);
    ctx.lineTo(50, yLast);
    ctx.lineTo(45, yLast + 3);
    ctx.fill();
    flag(lastPrice, "#ffff00", 4.5, 44.5, 14.5);
    flag(lastLow, "#ff0000", 5, 43.5, 15);

    // start date flag
    ctx.fillStyle = "#ffff00";
    ctx.beginPath();
    ctx.roundRect(49, 735, 52.5, 14, 2);
    ctx.fill();
    ctx.beginPath();
    ctx.moveTo(48, 735);
    ctx.lineTo(51, 732);
    ctx.lineTo(54, 735);
    ctx.fill();
    text(ctx, "2/12 8:00", 50.5, 742, `12px ${FONT}`, "#111111");

    // panel chips
    text(ctx, "Volume", 59, 433.5);
    text(ctx, "RSI", 59, 589);
    seg(ctx, 92, 109, 589, "#dd0000");
    text(ctx, "(15)", 113, 589);
    globe(ctx, 140, 589.5);

    // RSI level labels
    const levelX = x.getPixelForValue(209.5);
    text(ctx, String(rsiUpperLevel), levelX, yRsi.getPixelForValue(rsiUpperLevel) - 6.5, `9.5px ${FONT}`, "#444444", "center");
    text(ctx, String(rsiLowerLevel), levelX, yRsi.getPixelForValue(rsiLowerLevel) - 6.5, `9.5px ${FONT}`, "#444444", "center");

    // legend
    text(ctx, "EOE FEB'15 Futures@FTA", 1617.5, 319);
    globe(ctx, 1753, 319);
    seg(ctx, 1618, 1635, 334, "#444444", [6, 3]);
    text(ctx, "Prior Close", 1640, 335);
    check(ctx, 1699, 335);
    text(ctx, "BOL(20, 2.0 - EMA)", 1617.5, 353);
    globe(ctx, 1718, 353);
    seg(ctx, 1628, 1645, 367.5, "#0000b0");
    text(ctx, "Upper", 1649.5, 369);
    check(ctx, 1686, 369);
    seg(ctx, 1696, 1713, 367.5, "#888888");
    text(ctx, "Lower", 1717.5, 369);
    check(ctx, 1753.5, 369);
    seg(ctx, 1618, 1635, 385.5, "#000000");
    text(ctx, "EMA(20)", 1639.5, 386.5);
    check(ctx, 1688.5, 387);
    seg(ctx, 1699, 1716, 385.5, "#000000");
    text(ctx, "SMA(15)", 1720.5, 386.5);
    check(ctx, 1770, 387);
    globe(ctx, 1783, 387);
    ctx.restore();
  },
};

const flatAxis = (scale: any) => {
  scale.paddingTop = 0;
  scale.paddingBottom = 0;
  scale.paddingLeft = 0;
  scale.paddingRight = 0;
};

const yAxis = (ticks: number[], min: number, max: number, weight: number, label: (v: number) => string) => ({
  type: "linear" as const,
  position: "left" as const,
  stack: "panels",
  stackWeight: weight,
  min,
  max,
  afterBuildTicks: (scale: any) => {
    scale.ticks = ticks.map((value) => ({ value }));
  },
  afterFit: (scale: any) => {
    scale.width = 49.5;
    flatAxis(scale);
  },
  border: { display: false, dash: [2, 2] },
  grid: { color: GRID, lineWidth: 1, drawTicks: false },
  ticks: {
    autoSkip: false,
    padding: 6,
    labelOffset: 1,
    color: "#222222",
    font: { family: FONT, size: 12 },
    callback: (v: any) => label(Number(v)),
  },
});

const barStyle = { grouped: false, barPercentage: 1, categoryPercentage: 1, inflateAmount: 0, borderWidth: 0 };

export default function App() {
  const ref = useRef<HTMLCanvasElement>(null);
  useEffect(() => {
    document.body.style.margin = "0";
    const chart = new Chart(ref.current as HTMLCanvasElement, {
      type: "bar",
      data: {
        datasets: [
          { type: "line", label: "Prior Close", yAxisID: "yPrice", order: 9, data: [{ x: X_MIN, y: priorClose }, { x: X_MAX, y: priorClose }], borderColor: "#666666", borderWidth: 1.4, borderDash: [8, 5], pointRadius: 0 },
          { type: "bar", label: "High-Low", yAxisID: "yPrice", order: 8, ...barStyle, maxBarThickness: 1, data: ohlc.map((c, i) => ({ x: i, y: [c[2], c[1]] })), backgroundColor: "#000000" },
          { type: "bar", label: "Open-Close", yAxisID: "yPrice", order: 7, ...barStyle, maxBarThickness: 3, minBarLength: 1.5, data: ohlc.map((c, i) => ({ x: i, y: [c[0], c[3]] })), backgroundColor: ohlc.map(candleColor) },
          { type: "line", label: "Upper", yAxisID: "yPrice", order: 3, data: toPoints(upperBand), borderColor: "#1c1ccf", borderWidth: 1.2, pointRadius: 0, tension: 0 },
          { type: "line", label: "Lower", yAxisID: "yPrice", order: 4, data: toPoints(lowerBand), borderColor: "#a4a4a4", borderWidth: 1.2, pointRadius: 0, tension: 0 },
          { type: "line", label: "SMA(15)", yAxisID: "yPrice", order: 2, data: toPoints(sma15), borderColor: "#111111", borderWidth: 1.2, pointRadius: 0, tension: 0 },
          { type: "line", label: "EMA(20)", yAxisID: "yPrice", order: 1, data: toPoints(ema20), borderColor: "#111111", borderWidth: 1.2, pointRadius: 0, tension: 0 },
          { type: "bar", label: "Volume", yAxisID: "yVolume", order: 6, ...barStyle, maxBarThickness: 3, data: volume.map((v, i) => ({ x: i, y: v })), backgroundColor: volumeDirections.split("").map(volumeColor) },
          { type: "line", label: "RSI 70", yAxisID: "yRsi", order: 5, data: [{ x: X_MIN, y: rsiUpperLevel }, { x: X_MAX, y: rsiUpperLevel }], borderColor: "#333333", borderWidth: 1.3, pointRadius: 0 },
          { type: "line", label: "RSI 30", yAxisID: "yRsi", order: 5, data: [{ x: X_MIN, y: rsiLowerLevel }, { x: X_MAX, y: rsiLowerLevel }], borderColor: "#333333", borderWidth: 1.3, pointRadius: 0 },
          { type: "line", label: "RSI", yAxisID: "yRsi", order: 1, data: rsi.map((v, i) => ({ x: i, y: v })), borderColor: "#f41c2c", borderWidth: 1.1, pointRadius: 0, tension: 0 },
        ],
      } as any,
      options: {
        responsive: false,
        animation: false,
        events: [],
        devicePixelRatio: 1,
        layout: { padding: 0 },
        plugins: { legend: { display: false }, tooltip: { enabled: false }, title: { display: false } },
        scales: {
          x: {
            type: "linear",
            position: "bottom",
            offset: false,
            min: X_MIN,
            max: X_MAX,
            afterBuildTicks: (scale: any) => {
              scale.ticks = xTickBars.map((value) => ({ value }));
            },
            afterFit: (scale: any) => {
              scale.height = 23;
              flatAxis(scale);
            },
            border: {
              display: false,
              dash: (c: any) => (c.tick && c.index % 7 === 0 && c.index > 0 ? [6, 2] : [2, 2]),
            },
            grid: {
              offset: false,
              drawTicks: false,
              color: (c: any) => (c.tick && c.index % 7 === 0 && c.index > 0 ? "#000000" : GRID),
              lineWidth: (c: any) => (c.tick && c.index % 7 === 0 && c.index > 0 ? 1.6 : 1),
            },
            ticks: {
              autoSkip: false,
              maxRotation: 0,
              padding: 4,
              color: "#222222",
              font: (c: any) => ({ family: FONT, size: 12, weight: c.index % 7 === 0 ? "bold" : "normal" }),
              callback: (_v: any, i: number) => xTickLabels[i],
            },
          },
          yRsi: yAxis(rsiTicks, -0.47, 101.87, 153.5, (v) => String(v)),
          yVolume: yAxis(volumeTicks, -44.7, 2444, 156, (v) => volumeTickLabels[volumeTicks.indexOf(v)]),
          yPrice: yAxis(priceTicks, 455.429, 467.749, 420.5, (v) => v.toFixed(2)),
        },
      } as any,
      plugins: [snapBars as any, chrome as any],
    });
    return () => chart.destroy();
  }, []);
  return <canvas ref={ref} width={1806} height={753} style={{ display: "block", width: 1806, height: 753 }} />;
}
